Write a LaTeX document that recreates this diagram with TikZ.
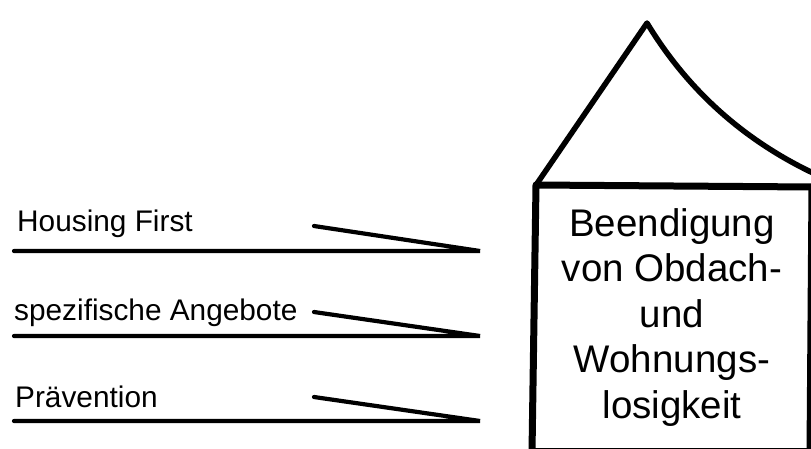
\documentclass[tikz,border=0pt]{standalone}
\usepackage{fontspec}
\setmainfont{Liberation Sans}
\tikzset{
	pfeil/.style={line width=4.2pt, line cap=round, line join=miter},
	haus/.style={line width=7pt, line cap=round, line join=round},
	etikett/.style={anchor=base west, inner sep=0pt, font=\fontsize{29.8}{35}\selectfont},
	zieltext/.style={anchor=north, inner sep=0pt, align=center, font=\fontsize{38.5}{45.5}\selectfont}
}
\begin{document}
\begin{tikzpicture}[x=1pt, y=-1pt]
	% frame of the picture
	\useasboundingbox (0,0) rectangle (811,448);
	\clip (0,0) rectangle (811,448);

	% roof
	\draw[line width=5.5pt, line cap=round, line join=round]
		   (536,185)
		-- (647,23)
		.. controls (687,89) and (742,139) .. (813,173);
	% walls
	\draw[haus]
		   (813,187)
		-- (536,185)
		-- (532,452);
	\draw[haus]
		   (812,187)
		-- (810,452);
	\draw[haus]
		   (532,451)
		-- (810,451);

	% goal text
	\node[zieltext] (ziel) at (672,208) {Beendigung\\von Obdach-\\und\\Wohnungs-\\losigkeit};

	% labels
	\node[etikett] (hf) at (17,231) {Housing First};
	\node[etikett] (sa) at (14,320) {spezifische Angebote};
	\node[etikett] (pr) at (15,407) {Prävention};

	% arrow points
	\coordinate (hf-start) at (14,251);
	\coordinate (hf-end) at (480,251);
	\coordinate (hf-barb) at (314,226);
	\coordinate (sa-start) at (14,336);
	\coordinate (sa-end) at (480,336);
	\coordinate (sa-barb) at (314,312);
	\coordinate (pr-start) at (14,421);
	\coordinate (pr-end) at (480,421);
	\coordinate (pr-barb) at (314,397);

	% arrows
	\draw[pfeil] (hf-start) -- (hf-end) -- (hf-barb);
	\draw[pfeil] (sa-start) -- (sa-end) -- (sa-barb);
	\draw[pfeil] (pr-start) -- (pr-end) -- (pr-barb);
\end{tikzpicture}
\end{document}
